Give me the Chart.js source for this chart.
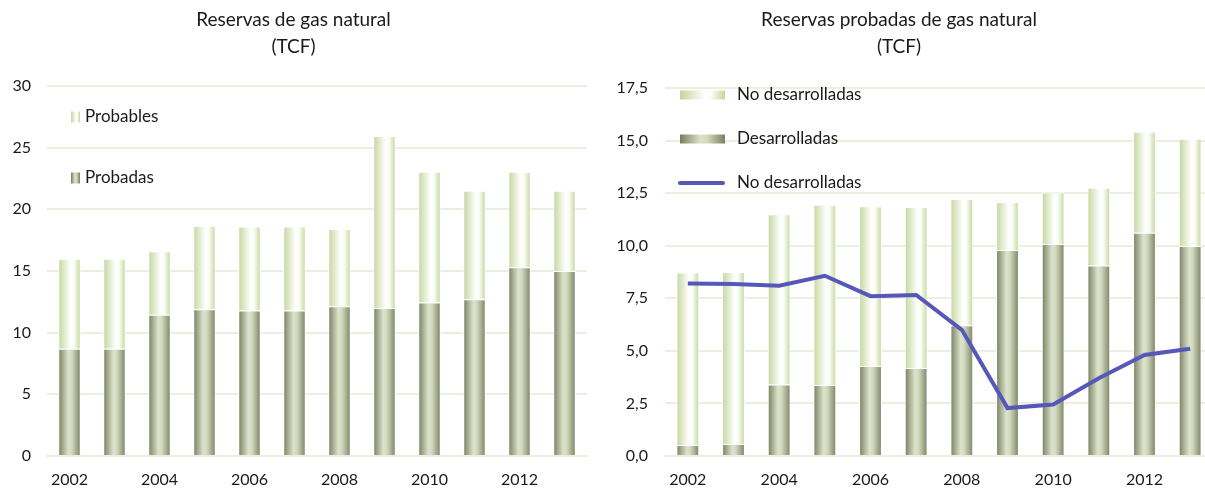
<!DOCTYPE html>
<html>
<head>
<meta charset="utf-8">
<script src="https://cdn.jsdelivr.net/npm/chart.js@4.4.1/dist/chart.umd.min.js"></script>
<style>
  body { margin: 0; background: #fff; }
  #lienzo { position: relative; width: 1205px; height: 489px; overflow: hidden; }
  canvas { position: absolute; top: 0; }
</style>
</head>
<body>
<div id="lienzo">
  <canvas id="izq" width="600" height="489" style="left:0"></canvas>
  <canvas id="der" width="640" height="489" style="left:585px"></canvas>
</div>
<script>
// datos
const anios = ['2002','2003','2004','2005','2006','2007','2008','2009','2010','2011','2012','2013'];
const probadas = [8.7, 8.7, 11.45, 11.9, 11.8, 11.8, 12.15, 12.0, 12.45, 12.7, 15.3, 15.0];
const probables = [7.3, 7.3, 5.15, 6.75, 6.8, 6.8, 6.25, 13.95, 10.6, 8.8, 7.75, 6.5];
const desarrolladas = [0.52, 0.57, 3.4, 3.38, 4.28, 4.18, 6.22, 9.8, 10.08, 9.06, 10.62, 9.98];
const noDesarrolladas = [8.2, 8.18, 8.1, 8.57, 7.6, 7.66, 6.0, 2.28, 2.45, 3.7, 4.8, 5.1];
const ticksIzq = [0, 5, 10, 15, 20, 25, 30];
const ticksDer = [0, 2.5, 5, 7.5, 10, 12.5, 15, 17.5];

const claro = [[0, '#c3d69b'], [0.55, '#ffffff'], [0.7, '#fbfdf6'], [1, '#c3d69b']];
const oscuro = [[0, '#767d5e'], [0.45, '#dde3cb'], [0.6, '#d3dabf'], [1, '#7a8163']];
const grilla = '#eceee0';
const texto = '#1a1a1a';
const fuente = 'Lato, "Open Sans", sans-serif';

function degradado(ctx, x0, x1, paradas) {
    const g = ctx.createLinearGradient(x0, 0, x1, 0);
    paradas.forEach(p => g.addColorStop(p[0], p[1]));
    return g;
}

function rellenoBarra(paradas) {
    return function (c) {
        const chart = c.chart;
        const x = chart.scales.x;
        if (c.type !== 'data' || !x) return paradas[1][1];
        const cx = x.getPixelForValue(c.dataIndex);
        const w = (x.width / anios.length) * 0.5;
        if (!isFinite(cx) || !isFinite(w) || w <= 0) return paradas[1][1];
        return degradado(chart.ctx, cx - w / 2, cx + w / 2, paradas);
    };
}

// leyenda propia dibujada dentro del area
const leyenda = {
    id: 'leyenda',
    afterDraw(chart, args, opts) {
        const ctx = chart.ctx;
        ctx.save();
        opts.items.forEach(it => {
            if (it.tipo === 'linea') {
                ctx.strokeStyle = '#5558b8';
                ctx.lineWidth = 4;
                ctx.lineCap = 'round';
                ctx.beginPath();
                ctx.moveTo(it.x + 2, it.y);
                ctx.lineTo(it.x + it.w - 2, it.y);
                ctx.stroke();
            } else {
                ctx.fillStyle = degradado(ctx, it.x, it.x + it.w, it.paradas);
                ctx.fillRect(it.x, it.y - it.h / 2, it.w, it.h);
            }
            ctx.fillStyle = texto;
            ctx.font = '17px ' + fuente;
            ctx.textBaseline = 'middle';
            ctx.fillText(it.texto, it.tx, it.y);
        });
        ctx.restore();
    }
};

function ejeX() {
    return {
        stacked: true,
        grid: { display: false, drawTicks: false },
        border: { color: grilla, width: 2 },
        ticks: {
            autoSkip: false, maxRotation: 0, padding: 14, color: texto,
            font: { size: 16, family: fuente },
            callback: (v, i) => i % 2 === 0 ? anios[i] : ''
        },
        afterFit: s => { s.height = 33; }
    };
}

function ejeY(max, paso, lista, ancho, relleno, formato) {
    return {
        stacked: true, min: 0, max: max,
        grid: { color: grilla, lineWidth: 2, drawTicks: false },
        border: { display: false },
        afterBuildTicks: s => { s.ticks = lista.map(v => ({ value: v })); },
        ticks: {
            stepSize: paso, padding: relleno, color: texto,
            font: { size: 16, family: fuente },
            callback: formato
        },
        afterFit: s => { s.width = ancho; }
    };
}

function titulo(lineas, abajo) {
    return {
        display: true, text: lineas, color: texto,
        font: { size: 19, family: fuente, weight: 'normal', lineHeight: 1.42 },
        padding: { top: 6, bottom: abajo }
    };
}

new Chart(document.getElementById('izq'), {
    type: 'bar',
    data: {
        labels: anios,
        datasets: [
            { label: 'Probadas', data: probadas, backgroundColor: rellenoBarra(oscuro), borderColor: '#fff', borderWidth: 1 },
            { label: 'Probables', data: probables, backgroundColor: rellenoBarra(claro), borderColor: '#fff', borderWidth: 1 }
        ]
    },
    options: {
        responsive: false,
        animation: false,
        categoryPercentage: 1,
        barPercentage: 0.5,
        layout: { padding: { left: 0, right: 13, top: 0, bottom: 0 } },
        scales: {
            x: ejeX(),
            y: ejeY(30, 5, ticksIzq, 47, 16, v => String(v))
        },
        plugins: {
            legend: { display: false },
            tooltip: { enabled: false },
            title: titulo(['Reservas de gas natural', '(TCF)'], 26),
            leyenda: {
                items: [
                    { texto: 'Probables', paradas: claro, x: 71, y: 117, w: 9, h: 11, tx: 85 },
                    { texto: 'Probadas', paradas: oscuro, x: 71, y: 178, w: 9, h: 11, tx: 85 }
                ]
            }
        }
    },
    plugins: [leyenda]
});

new Chart(document.getElementById('der'), {
    type: 'bar',
    data: {
        labels: anios,
        datasets: [
            { type: 'line', label: 'No desarrolladas', data: noDesarrolladas, stack: 'linea', order: 0,
              borderColor: '#5558b8', borderWidth: 4, pointRadius: 0, tension: 0, fill: false },
            { label: 'Desarrolladas', data: desarrolladas, stack: 'barras', order: 1,
              backgroundColor: rellenoBarra(oscuro), borderColor: '#fff', borderWidth: 1 },
            { label: 'No desarrolladas', data: noDesarrolladas, stack: 'barras', order: 1,
              backgroundColor: rellenoBarra(claro), borderColor: '#fff', borderWidth: 1 }
        ]
    },
    options: {
        responsive: false,
        animation: false,
        categoryPercentage: 1,
        barPercentage: 0.5,
        layout: { padding: { left: 0, right: 12, top: 0, bottom: 0 } },
        scales: {
            x: ejeX(),
            y: ejeY(17.5, 2.5, ticksDer, 80, 17, v => v.toFixed(1).replace('.', ','))
        },
        plugins: {
            legend: { display: false },
            tooltip: { enabled: false },
            title: titulo(['Reservas probadas de gas natural', '(TCF)'], 28),
            leyenda: {
                items: [
                    { texto: 'No desarrolladas', paradas: claro, x: 95, y: 95, w: 45, h: 9, tx: 152 },
                    { texto: 'Desarrolladas', paradas: oscuro, x: 95, y: 139, w: 45, h: 9, tx: 152 },
                    { texto: 'No desarrolladas', tipo: 'linea', x: 93, y: 183, w: 47, tx: 152 }
                ]
            }
        }
    },
    plugins: [leyenda]
});
</script>
</body>
</html>
